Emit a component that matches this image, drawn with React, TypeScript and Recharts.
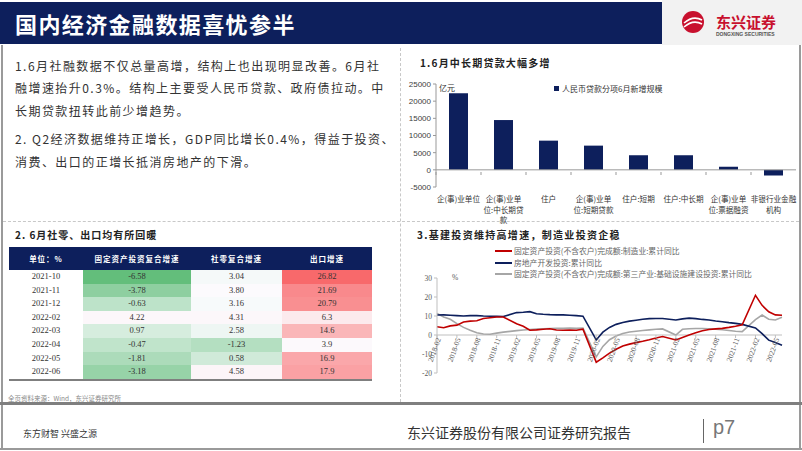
import React from 'react';
import { BarChart, Bar, XAxis, YAxis, ReferenceLine, LineChart, Line } from 'recharts';

// 1. loans by item, June (100m yuan)
const loanCategories = [
  '企(事)业单位',
  '企(事)业单位:中长期贷款',
  '住户',
  '企(事)业单位:短期贷款',
  '住户:短期',
  '住户:中长期',
  '企(事)业单位:票据融资',
  '非银行业金融机构',
];
const loanTickLines = [
  ['企(事)业单位'],
  ['企(事)业单', '位:中长期贷', '款'],
  ['住户'],
  ['企(事)业单', '位:短期贷款'],
  ['住户:短期'],
  ['住户:中长期'],
  ['企(事)业单', '位:票据融资'],
  ['非银行业金融', '机构'],
];
const loanValues = [22300, 14500, 8500, 7050, 4250, 4250, 900, -1650];
const loanTicks = [-5000, 0, 5000, 10000, 15000, 20000, 25000];

// 2. table
const tableMonths = ['2021-10', '2021-11', '2021-12', '2022-02', '2022-03', '2022-04', '2022-05', '2022-06'];
const fixedInvest = [-6.58, -3.78, -0.63, 4.22, 0.97, -0.47, -1.81, -3.18];
const retailSales = [3.04, 3.8, 3.16, 4.31, 2.58, -1.23, 0.58, 4.58];
const exportGrowth = [26.82, 21.69, 20.79, 6.3, 14.6, 3.9, 16.9, 17.9];

// 3. investment, cumulative yoy (%), January not published
const invMonths = [
  '2018-02', '2018-03', '2018-04', '2018-05', '2018-06', '2018-07', '2018-08', '2018-09', '2018-10', '2018-11', '2018-12',
  '2019-01', '2019-02', '2019-03', '2019-04', '2019-05', '2019-06', '2019-07', '2019-08', '2019-09', '2019-10', '2019-11', '2019-12',
  '2020-01', '2020-02', '2020-03', '2020-04', '2020-05', '2020-06', '2020-07', '2020-08', '2020-09', '2020-10', '2020-11', '2020-12',
  '2021-01', '2021-02', '2021-03', '2021-04', '2021-05', '2021-06', '2021-07', '2021-08', '2021-09', '2021-10', '2021-11', '2021-12',
  '2022-01', '2022-02', '2022-03', '2022-04', '2022-05', '2022-06',
];
const manufacturing = [
  4.3, 3.8, 4.8, 5.2, 6.8, 7.3, 7.5, 8.7, 9.1, 9.5, 9.5,
  null, 5.9, 4.6, 2.5, 2.7, 3.0, 3.3, 2.6, 2.5, 2.6, 2.5, 3.1,
  null, -14.3, -12, -9.5, -7.5, -5.8, -4.8, -4.0, -3.3, -2.5, -1.6, -0.8,
  null, -2.6, -1.3, 0, 1.2, 2.2, 2.9, 3.2, 3.5, 4.0, 4.6, 5.4,
  null, 20.9, 15.6, 12.2, 10.6, 10.4,
];
const realEstate = [
  10.5, 10.6, 10.4, 10.2, 10.0, 10.2, 10.2, 10.0, 9.9, 9.8, 9.7,
  null, 11.8, 12.0, 12.3, 11.2, 10.9, 10.7, 10.6, 10.6, 10.4, 10.2, 9.9,
  null, -2.6, 1.5, 4.0, 5.6, 6.6, 7.3, 7.8, 8.3, 8.6, 8.7, 8.7,
  null, 7.9, 8.5, 8.9, 8.6, 8.2, 7.9, 7.4, 7.0, 6.5, 6.1, 5.6,
  null, 3.7, 0.7, -2.7, -4.0, -5.4,
];
const infrastructure = [
  11.4, 9.5, 8.3, 6.0, 4.0, 2.5, 1.2, 0.5, 0.4, 1.0, 1.5,
  null, 2.3, 2.6, 2.9, 3.1, 3.3, 3.4, 3.5, 3.5, 3.6, 3.5, 3.6,
  null, -11.5, -6.0, -2.5, -0.5, 0.8, 1.6, 2.0, 2.4, 2.7, 3.0, 3.2,
  null, 0.0, 3.0, 3.3, 3.4, 3.4, 3.3, 3.1, 2.8, 2.4, 2.0, 1.8,
  null, 8.1, 10.5, 8.3, 7.9, 9.3,
];
const invTicks = [-20, -10, 0, 10, 20, 30];

const NAVY = '#0d1f5c';
const CJK = '"Noto Sans CJK SC", sans-serif';
const SERIF = '"Liberation Serif", "Noto Sans CJK SC", serif';

const loanData = loanCategories.map((name, i) => ({ name, idx: i, value: loanValues[i] }));
const invData = invMonths.map((m, i) => ({
  month: m,
  mfg: manufacturing[i],
  re: realEstate[i],
  infra: infrastructure[i],
}));

// excel-like 3-colour scale over the whole table
const allCells = [...fixedInvest, ...retailSales, ...exportGrowth].sort((a, b) => a - b);
const cMin = allCells[0];
const cMax = allCells[allCells.length - 1];
const cMid = (allCells[11] + allCells[12]) / 2;
function mix(a: number[], b: number[], t: number) {
  return `rgb(${a.map((v, k) => Math.round(v + (b[k] - v) * t)).join(',')})`;
}
function cellColor(v: number) {
  const green = [99, 190, 123];
  const white = [252, 252, 255];
  const red = [248, 105, 107];
  if (v <= cMid) return mix(white, green, (cMid - v) / (cMid - cMin));
  return mix(white, red, (v - cMid) / (cMax - cMid));
}

const BC_PLOT_W = 360;

function LoanTick({ x, y, payload }: any) {
  const lines = loanTickLines[payload.index] || [payload.value];
  const half = BC_PLOT_W / loanValues.length / 2;
  return (
    <g>
      <text x={x} y={y + 13} textAnchor="middle" fontSize={7.6} fill="#333" fontFamily={CJK}>
        {lines.map((l: string, k: number) => (
          <tspan key={k} x={x} dy={k === 0 ? 0 : 10.5}>
            {l}
          </tspan>
        ))}
      </text>
      <line x1={x - half} x2={x - half} y1={y - 17} y2={y - 14} stroke="#999" />
    </g>
  );
}

const LC_PLOT_H = 95;
const zeroShift = (LC_PLOT_H * (0 - invTicks[0])) / (invTicks[invTicks.length - 1] - invTicks[0]);

function InvTick({ x, y, payload }: any) {
  const zy = y - zeroShift;
  return (
    <g>
      <line x1={x} x2={x} y1={zy} y2={zy + 3} stroke="#bfbfbf" />
      <text
        x={x + 4}
        y={zy + 4}
        textAnchor="end"
        fontSize={7.5}
        fill="#595959"
        fontFamily={SERIF}
        transform={`rotate(-70 ${x + 4} ${zy + 4})`}
      >
        {payload.value}
      </text>
    </g>
  );
}

const abs = (l: number, t: number, extra: React.CSSProperties = {}): React.CSSProperties => ({
  position: 'absolute',
  left: l,
  top: t,
  ...extra,
});

const textLines = [
  '1.6月社融数据不仅总量高增，结构上也出现明显改善。6月社',
  '融增速抬升0.3%。结构上主要受人民币贷款、政府债拉动。中',
  '长期贷款扭转此前少增趋势。',
  '2. Q2经济数据维持正增长，GDP同比增长0.4%，得益于投资、',
  '消费、出口的正增长抵消房地产的下滑。',
];
const textTops = [57, 79, 102, 130, 153];

const legendItems = [
  { color: '#c00000', label: '固定资产投资(不含农户)完成额:制造业:累计同比' },
  { color: NAVY, label: '房地产开发投资:累计同比' },
  { color: '#a6a6a6', label: '固定资产投资(不含农户)完成额:第三产业:基础设施建设投资:累计同比' },
];

export default function App() {
  const th: React.CSSProperties = {
    color: '#fff',
    fontWeight: 'bold',
    fontSize: 7.5,
    letterSpacing: 1,
    fontFamily: CJK,
    textAlign: 'center',
    padding: 0,
    height: 23,
  };
  const td: React.CSSProperties = {
    fontSize: 8.5,
    fontFamily: SERIF,
    color: '#333',
    textAlign: 'center',
    padding: 0,
    height: 13.6,
    lineHeight: '13.6px',
  };
  return (
    <div style={{ position: 'absolute', left: 0, top: 0, width: 802, height: 451, background: '#fff', overflow: 'hidden' }}>
      {/* header */}
      <div style={abs(0, 2, { width: 662, height: 42, background: NAVY })} />
      <div
        style={abs(15, 9, {
          color: '#fff',
          fontSize: 22,
          fontWeight: 'bold',
          letterSpacing: 1.4,
          fontFamily: CJK,
          lineHeight: '28px',
          whiteSpace: 'nowrap',
        })}
      >
        国内经济金融数据喜忧参半
      </div>
      <div style={abs(662, 0, { width: 140, height: 45, background: '#f2f2f2' })} />
      <svg style={abs(662, 0)} width={140} height={45}>
        <circle cx={31} cy={22} r={11} fill="#c8102e" />
        <path d="M22 23 Q31 15 40 20" stroke="#fff" strokeWidth={1.6} fill="none" />
        <path d="M22 27 Q31 19 40 24" stroke="#fff" strokeWidth={1.6} fill="none" />
        <text x={54} y={28} fontSize={15} fontWeight="bold" fill="#c8102e" fontFamily={CJK}>
          东兴证券
        </text>
        <text x={54} y={36} fontSize={5} fontWeight="bold" fill="#555" fontFamily="Liberation Sans">
          DONGXING SECURITIES
        </text>
      </svg>

      {/* frame */}
      <div style={abs(1, 45, { width: 2, height: 359, background: '#9a9a9a' })} />
      <div style={abs(799, 45, { width: 2, height: 359, background: '#9a9a9a' })} />
      <div style={abs(400, 48, { width: 0, height: 354, borderLeft: '1px dashed #c8c8c8' })} />
      <div style={abs(3, 221, { width: 796, height: 0, borderTop: '1px dashed #c8c8c8' })} />

      {/* text panel */}
      {textLines.map((l, i) => (
        <div
          key={i}
          style={abs(15, textTops[i], {
            fontSize: 12,
            letterSpacing: 1.45,
            color: '#333',
            fontFamily: CJK,
            lineHeight: '18px',
            whiteSpace: 'nowrap',
          })}
        >
          {l}
        </div>
      ))}

      {/* bar chart */}
      <div style={abs(420, 55, { fontSize: 10, fontWeight: 'bold', letterSpacing: 1.2, color: '#222', fontFamily: CJK, whiteSpace: 'nowrap' })}>
        1.6月中长期贷款大幅多增
      </div>
      <div style={abs(400, 70)}>
        <BarChart width={400} height={160} data={loanData} margin={{ top: 14, right: 4, left: 0, bottom: 0 }} barSize={19}>
          <XAxis dataKey="name" axisLine={false} tickLine={false} tickSize={0} height={43} interval={0} tick={<LoanTick />} />
          <YAxis
            width={36}
            domain={[-5000, 25000]}
            ticks={loanTicks}
            interval={0}
            axisLine={{ stroke: '#999' }}
            tickLine={{ stroke: '#999' }}
            tickSize={3}
            tick={{ fontSize: 8, fill: '#404040', fontFamily: 'Liberation Sans' }}
          />
          <ReferenceLine y={0} stroke="#999" />
          <Bar dataKey="value" fill={NAVY} isAnimationActive={false} />
        </BarChart>
      </div>
      <div style={abs(439, 82, { fontSize: 8, color: '#333', fontFamily: CJK })}>亿元</div>
      <div style={abs(554, 83, { display: 'flex', alignItems: 'center', fontSize: 8, color: '#333', fontFamily: CJK, whiteSpace: 'nowrap' })}>
        <span style={{ width: 5, height: 5, background: NAVY, marginRight: 3, display: 'inline-block' }} />
        人民币贷款分项6月新增规模
      </div>

      {/* table */}
      <div style={abs(15, 227, { fontSize: 10, fontWeight: 'bold', letterSpacing: 1, color: '#222', fontFamily: CJK, whiteSpace: 'nowrap' })}>
        2. 6月社零、出口均有所回暖
      </div>
      <table style={{ ...abs(9, 247), borderCollapse: 'collapse', width: 363, tableLayout: 'fixed', borderBottom: '2px solid #7f7f7f' }}>
        <colgroup>
          <col style={{ width: 74 }} />
          <col style={{ width: 108 }} />
          <col style={{ width: 91 }} />
          <col style={{ width: 90 }} />
        </colgroup>
        <thead>
          <tr style={{ background: NAVY }}>
            <th style={th}>单位：%</th>
            <th style={th}>固定资产投资复合增速</th>
            <th style={th}>社零复合增速</th>
            <th style={th}>出口增速</th>
          </tr>
        </thead>
        <tbody>
          {tableMonths.map((m, i) => (
            <tr key={m}>
              <td style={td}>{m}</td>
              <td style={{ ...td, background: cellColor(fixedInvest[i]) }}>{fixedInvest[i].toFixed(2)}</td>
              <td style={{ ...td, background: cellColor(retailSales[i]) }}>{retailSales[i].toFixed(2)}</td>
              <td style={{ ...td, background: cellColor(exportGrowth[i]) }}>{String(exportGrowth[i])}</td>
            </tr>
          ))}
        </tbody>
      </table>

      {/* line chart */}
      <div style={abs(417, 227, { fontSize: 10, fontWeight: 'bold', letterSpacing: 1.3, color: '#222', fontFamily: CJK, whiteSpace: 'nowrap' })}>
        3.基建投资维持高增速，制造业投资企稳
      </div>
      {legendItems.map((it, i) => (
        <div
          key={i}
          style={abs(495, 246 + i * 11.5, { display: 'flex', alignItems: 'center', fontSize: 7.8, color: '#666', fontFamily: CJK, whiteSpace: 'nowrap', lineHeight: '10px' })}
        >
          <span style={{ width: 17, height: 2, background: it.color, marginRight: 2, display: 'inline-block' }} />
          {it.label}
        </div>
      ))}
      <div style={abs(400, 240)}>
        <LineChart width={400} height={160} data={invData} margin={{ top: 38, right: 18, left: 0, bottom: 0 }}>
          <XAxis dataKey="month" axisLine={false} tickLine={false} tickSize={0} tickMargin={0} height={27} interval={2} tick={<InvTick />} />
          <YAxis
            width={37}
            domain={[-20, 30]}
            ticks={invTicks}
            interval={0}
            axisLine={{ stroke: '#bfbfbf' }}
            tickLine={{ stroke: '#bfbfbf' }}
            tickSize={3}
            tick={{ fontSize: 7.5, fill: '#595959', fontFamily: SERIF }}
          />
          <ReferenceLine y={0} stroke="#bfbfbf" />
          <Line dataKey="infra" stroke="#a6a6a6" strokeWidth={1.6} dot={false} connectNulls isAnimationActive={false} />
          <Line dataKey="re" stroke={NAVY} strokeWidth={1.6} dot={false} connectNulls isAnimationActive={false} />
          <Line dataKey="mfg" stroke="#c00000" strokeWidth={1.6} dot={false} connectNulls isAnimationActive={false} />
        </LineChart>
      </div>
      <div style={abs(452, 273, { fontSize: 7.5, color: '#595959', fontFamily: SERIF })}>%</div>

      {/* footer */}
      <div style={abs(8, 393, { fontSize: 6.5, color: '#888', fontFamily: CJK, whiteSpace: 'nowrap' })}>
        全页资料来源：Wind，东兴证券研究所
      </div>
      <div style={abs(0, 402, { width: 802, height: 3, background: '#7f7f7f' })} />
      <div style={abs(1, 405, { width: 2, height: 45, background: '#9a9a9a' })} />
      <div style={abs(799, 405, { width: 2, height: 45, background: '#9a9a9a' })} />
      <div style={abs(0, 448, { width: 802, height: 2, background: '#9a9a9a' })} />
      <div style={abs(23, 427, { fontSize: 9, color: '#333', fontFamily: CJK, whiteSpace: 'nowrap' })}>东方财智 兴盛之源</div>
      <div style={abs(407, 422, { fontSize: 14, color: '#333', fontFamily: CJK, whiteSpace: 'nowrap' })}>
        东兴证券股份有限公司证券研究报告
      </div>
      <div style={abs(703, 419, { width: 1, height: 24, background: '#666' })} />
      <div style={abs(713, 416, { fontSize: 20, color: '#777', fontFamily: '"Liberation Sans", sans-serif', fontWeight: 300 })}>p7</div>
    </div>
  );
}
